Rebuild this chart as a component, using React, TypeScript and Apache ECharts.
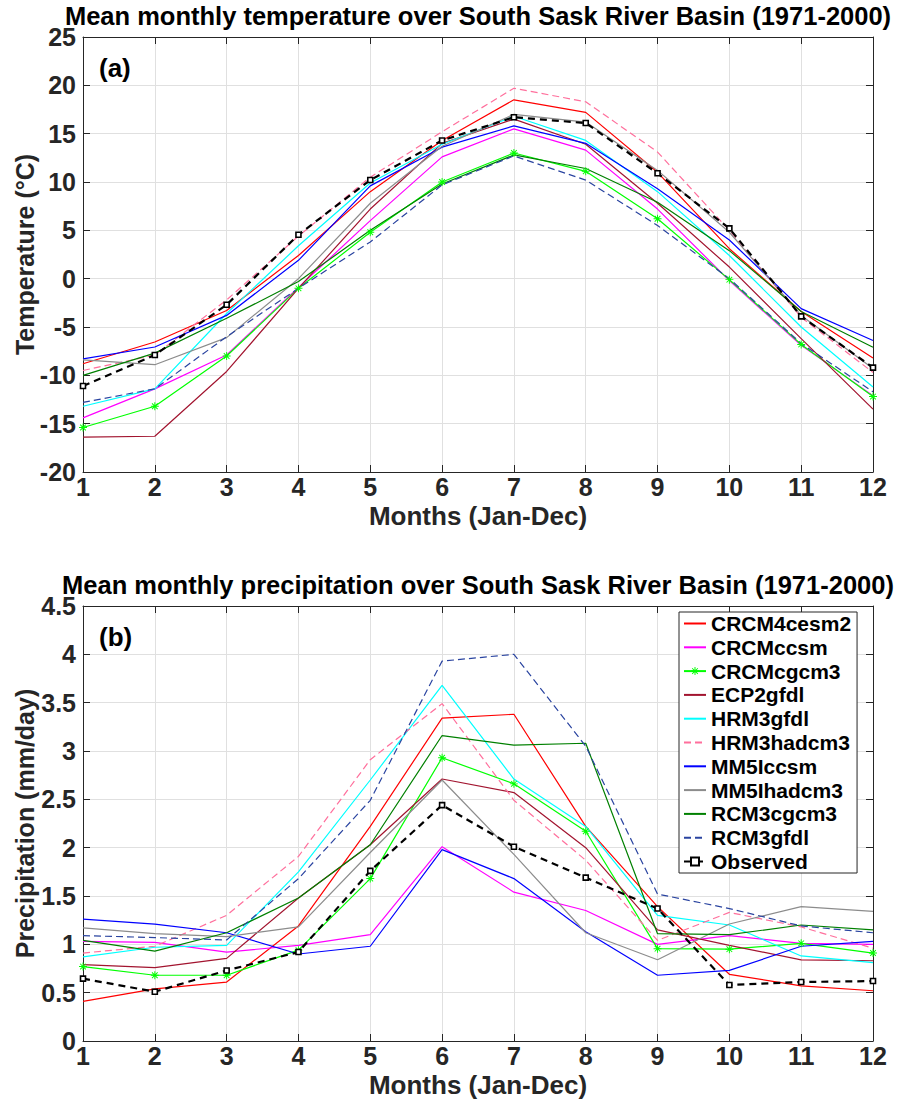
import React, { useEffect, useRef } from "react";
import * as echarts from "echarts";

const months = [1, 2, 3, 4, 5, 6, 7, 8, 9, 10, 11, 12];
const seriesNames = [
  "CRCM4cesm2",
  "CRCMccsm",
  "CRCMcgcm3",
  "ECP2gfdl",
  "HRM3gfdl",
  "HRM3hadcm3",
  "MM5Iccsm",
  "MM5Ihadcm3",
  "RCM3cgcm3",
  "RCM3gfdl",
  "Observed",
];

// Temperature (°C)
const tCRCM4cesm2 = [-8.8, -6.55, -3.3, 2.4, 9.0, 14.3, 18.5, 17.2, 11.0, 3.1, -3.4, -8.2];
const tCRCMccsm = [-14.4, -11.4, -7.9, -0.9, 6.0, 12.6, 15.5, 13.3, 7.2, -0.2, -6.9, -12.1];
const tCRCMcgcm3 = [-15.4, -13.2, -8.0, -1.0, 4.8, 10.0, 13.0, 11.1, 6.2, -0.1, -6.8, -12.2];
const tECP2gfdl = [-16.4, -16.3, -9.6, -1.0, 7.2, 14.0, 16.5, 13.9, 7.8, 1.2, -6.2, -13.5];
const tHRM3gfdl = [-13.2, -11.4, -3.6, 3.4, 9.9, 13.9, 16.8, 14.3, 9.0, 2.4, -5.0, -11.2];
const tHRM3hadcm3 = [-9.5, -7.9, -2.2, 4.4, 10.5, 15.2, 19.7, 18.3, 13.1, 5.0, -4.0, -9.7];
const tMM5Iccsm = [-8.3, -7.07, -3.8, 1.9, 9.6, 13.6, 15.8, 14.0, 9.3, 4.0, -3.1, -6.4];
const tMM5Ihadcm3 = [-8.4, -8.9, -6.1, 0.0, 7.8, 13.7, 17.0, 16.2, 11.2, 4.8, -3.8, -9.3];
const tRCM3cgcm3 = [-10.0, -7.7, -4.1, -0.3, 5.0, 9.8, 12.8, 11.4, 7.9, 2.9, -3.4, -7.1];
const tRCM3gfdl = [-12.8, -11.4, -6.0, -1.0, 3.8, 9.7, 12.7, 10.2, 5.5, 0.0, -6.7, -11.7];
const tObserved = [-11.1, -7.9, -2.7, 4.55, 10.2, 14.3, 16.7, 16.1, 10.9, 5.2, -3.9, -9.2];

// Precipitation (mm/day)
const pCRCM4cesm2 = [0.41, 0.54, 0.61, 1.19, 2.22, 3.34, 3.38, 2.22, 1.39, 0.69, 0.57, 0.52];
const pCRCMccsm = [1.03, 1.02, 0.92, 0.99, 1.1, 2.01, 1.54, 1.35, 1.0, 1.09, 1.01, 1.0];
const pCRCMcgcm3 = [0.77, 0.68, 0.68, 0.94, 1.68, 2.93, 2.66, 2.17, 0.955, 0.95, 1.01, 0.91];
const pECP2gfdl = [0.79, 0.76, 0.855, 1.48, 2.03, 2.71, 2.57, 2.0, 1.15, 0.99, 0.84, 0.83];
const pHRM3gfdl = [0.87, 0.97, 0.99, 1.75, 2.7, 3.68, 2.71, 2.22, 1.3, 1.2, 0.88, 0.81];
const pHRM3hadcm3 = [0.91, 0.98, 1.3, 1.91, 2.91, 3.49, 2.49, 1.87, 1.04, 1.33, 1.18, 0.96];
const pMM5Iccsm = [1.26, 1.21, 1.12, 0.9, 0.98, 1.98, 1.68, 1.13, 0.68, 0.73, 0.98, 1.03];
const pMM5Ihadcm3 = [1.17, 1.11, 1.08, 1.18, 1.95, 2.7, 1.93, 1.12, 0.84, 1.21, 1.39, 1.34];
const pRCM3cgcm3 = [1.04, 0.93, 1.12, 1.48, 2.03, 3.16, 3.06, 3.08, 1.11, 1.1, 1.2, 1.15];
const pRCM3gfdl = [1.09, 1.07, 1.045, 1.68, 2.49, 3.93, 4.0, 3.05, 1.52, 1.37, 1.19, 1.12];
const pObserved = [0.645, 0.51, 0.73, 0.92, 1.76, 2.44, 2.01, 1.69, 1.37, 0.58, 0.61, 0.62];

const tempSeries = [
  tCRCM4cesm2, tCRCMccsm, tCRCMcgcm3, tECP2gfdl, tHRM3gfdl, tHRM3hadcm3,
  tMM5Iccsm, tMM5Ihadcm3, tRCM3cgcm3, tRCM3gfdl, tObserved,
];
const precSeries = [
  pCRCM4cesm2, pCRCMccsm, pCRCMcgcm3, pECP2gfdl, pHRM3gfdl, pHRM3hadcm3,
  pMM5Iccsm, pMM5Ihadcm3, pRCM3cgcm3, pRCM3gfdl, pObserved,
];

const tempTicks = { min: -20, max: 25, interval: 5 };
const precTicks = { min: 0, max: 4.5, interval: 0.5 };

const FONT = "'Liberation Sans', Arial, Helvetica, sans-serif";
const AXIS_COLOR = "#262626";
const GRID_COLOR = "#e0e0e0";

const ASTERISK =
  "path://M-0.6,-5L0.6,-5L0.6,5L-0.6,5Z" +
  "M-5,-0.6L5,-0.6L5,0.6L-5,0.6Z" +
  "M-3.96,-3.12L-3.12,-3.96L3.96,3.12L3.12,3.96Z" +
  "M-3.12,3.96L-3.96,3.12L3.12,-3.96L3.96,-3.12Z";

const styles: any[] = [
  { color: "#ff0000" },
  { color: "#ff00ff" },
  { color: "#00ff00", symbol: ASTERISK, symbolSize: 8 },
  { color: "#a2142f" },
  { color: "#00ffff" },
  { color: "#ff6f9c", dash: [7, 4] },
  { color: "#0000ff" },
  { color: "#8c8c8c" },
  { color: "#008000" },
  { color: "#2a44a0", dash: [7, 4] },
  { color: "#000000", dash: [7, 5], width: 2.2, symbol: "rect", symbolSize: 5, open: true },
];

function buildSeries(data: number[][], xi: number, yi: number) {
  return data.map((vals, i) => {
    const st = styles[i];
    const s: any = {
      name: seriesNames[i],
      type: "line",
      xAxisIndex: xi,
      yAxisIndex: yi,
      data: months.map((m, k) => [m, vals[k]]),
      symbol: st.symbol || "none",
      symbolSize: st.symbolSize || 0,
      showSymbol: !!st.symbol,
      lineStyle: {
        color: st.color,
        width: st.width || 1.2,
        type: st.dash || "solid",
      },
      itemStyle: st.open
        ? { color: "#ffffff", borderColor: st.color, borderWidth: 1.6 }
        : { color: st.color, borderWidth: 0 },
      emphasis: { disabled: true },
      z: i === 10 ? 5 : 2,
    };
    return s;
  });
}

function xAxes(gridIndex: number) {
  const base = {
    type: "value",
    gridIndex,
    min: 1,
    max: 12,
    interval: 1,
    axisLine: { show: true, onZero: false, lineStyle: { color: AXIS_COLOR, width: 1 } },
    axisTick: { show: true, inside: true, length: 7, lineStyle: { color: AXIS_COLOR } },
  };
  return [
    {
      ...base,
      position: "bottom",
      name: "Months (Jan-Dec)",
      nameLocation: "middle",
      nameGap: 31,
      nameTextStyle: { fontFamily: FONT, fontWeight: "bold", fontSize: 26, color: AXIS_COLOR },
      axisLabel: {
        fontFamily: FONT, fontWeight: "bold", fontSize: 25, color: AXIS_COLOR, margin: 4, lineHeight: 22,
      },
      splitLine: { show: true, lineStyle: { color: GRID_COLOR, width: 1 } },
    },
    {
      ...base,
      position: "top",
      axisLabel: { show: false },
      splitLine: { show: false },
    },
  ];
}

function yAxes(gridIndex: number, ticks: any, name: string) {
  const base = {
    type: "value",
    gridIndex,
    min: ticks.min,
    max: ticks.max,
    interval: ticks.interval,
    axisLine: { show: true, onZero: false, lineStyle: { color: AXIS_COLOR, width: 1 } },
    axisTick: { show: true, inside: true, length: 7, lineStyle: { color: AXIS_COLOR } },
  };
  return [
    {
      ...base,
      position: "left",
      name,
      nameLocation: "middle",
      nameGap: 46,
      nameMoveOverlap: false,
      nameTextStyle: { fontFamily: FONT, fontWeight: "bold", fontSize: 25, color: AXIS_COLOR },
      axisLabel: {
        fontFamily: FONT, fontWeight: "bold", fontSize: 25, color: AXIS_COLOR, margin: 7, lineHeight: 20,
      },
      splitLine: { show: true, lineStyle: { color: GRID_COLOR, width: 1 } },
    },
    {
      ...base,
      position: "right",
      axisLabel: { show: false },
      splitLine: { show: false },
    },
  ];
}

const legendData = seriesNames.map((n, i) =>
  styles[i].symbol ? { name: n } : { name: n, itemStyle: { opacity: 0 } }
);

export default function App() {
  const ref = useRef<HTMLDivElement>(null);
  useEffect(() => {
    if (!ref.current) return;
    const chart = echarts.init(ref.current, null, { renderer: "svg" });
    const titleStyle = {
      fontFamily: FONT,
      fontWeight: "bold",
      fontSize: 25.5,
      lineHeight: 24,
      fill: "#000000",
      align: "center",
      verticalAlign: "middle",
    };
    const tagStyle = {
      fontFamily: FONT,
      fontWeight: "bold",
      fontSize: 26,
      fill: "#000000",
      align: "left",
      verticalAlign: "middle",
    };
    const option: any = {
      animation: false,
      backgroundColor: "#ffffff",
      grid: [
        { left: 83, top: 37, width: 790, height: 435, outerBoundsMode: "none", containLabel: false },
        { left: 83, top: 606, width: 790, height: 435, outerBoundsMode: "none", containLabel: false },
      ],
      xAxis: [...xAxes(0), ...xAxes(1)],
      yAxis: [
        ...yAxes(0, tempTicks, "Temperature (°C)"),
        ...yAxes(1, precTicks, "Precipitation (mm/day)"),
      ],
      legend: {
        data: legendData,
        orient: "vertical",
        left: 679,
        top: 612,
        padding: [1, 6, 1, 4],
        itemGap: 2.8,
        itemWidth: 22,
        itemHeight: 10,
        backgroundColor: "#ffffff",
        borderColor: AXIS_COLOR,
        borderWidth: 1,
        textStyle: {
          fontFamily: FONT,
          fontWeight: "bold",
          fontSize: 21,
          lineHeight: 20,
          color: "#000000",
        },
        selectedMode: false,
      },
      graphic: [
        {
          type: "text",
          x: 478,
          y: 16,
          style: {
            ...titleStyle,
            text: "Mean monthly temperature over South Sask River Basin (1971-2000)",
          },
        },
        {
          type: "text",
          x: 478,
          y: 585,
          style: {
            ...titleStyle,
            text: "Mean monthly precipitation over South Sask River Basin (1971-2000)",
          },
        },
        { type: "text", x: 99, y: 68, style: { ...tagStyle, text: "(a)" } },
        { type: "text", x: 99, y: 637, style: { ...tagStyle, text: "(b)" } },
      ],
      series: [...buildSeries(tempSeries, 0, 0), ...buildSeries(precSeries, 2, 2)],
    };
    chart.setOption(option);
    return () => chart.dispose();
  }, []);
  return (
    <div
      ref={ref}
      style={{ position: "absolute", left: 0, top: 0, width: 907, height: 1103 }}
    />
  );
}
